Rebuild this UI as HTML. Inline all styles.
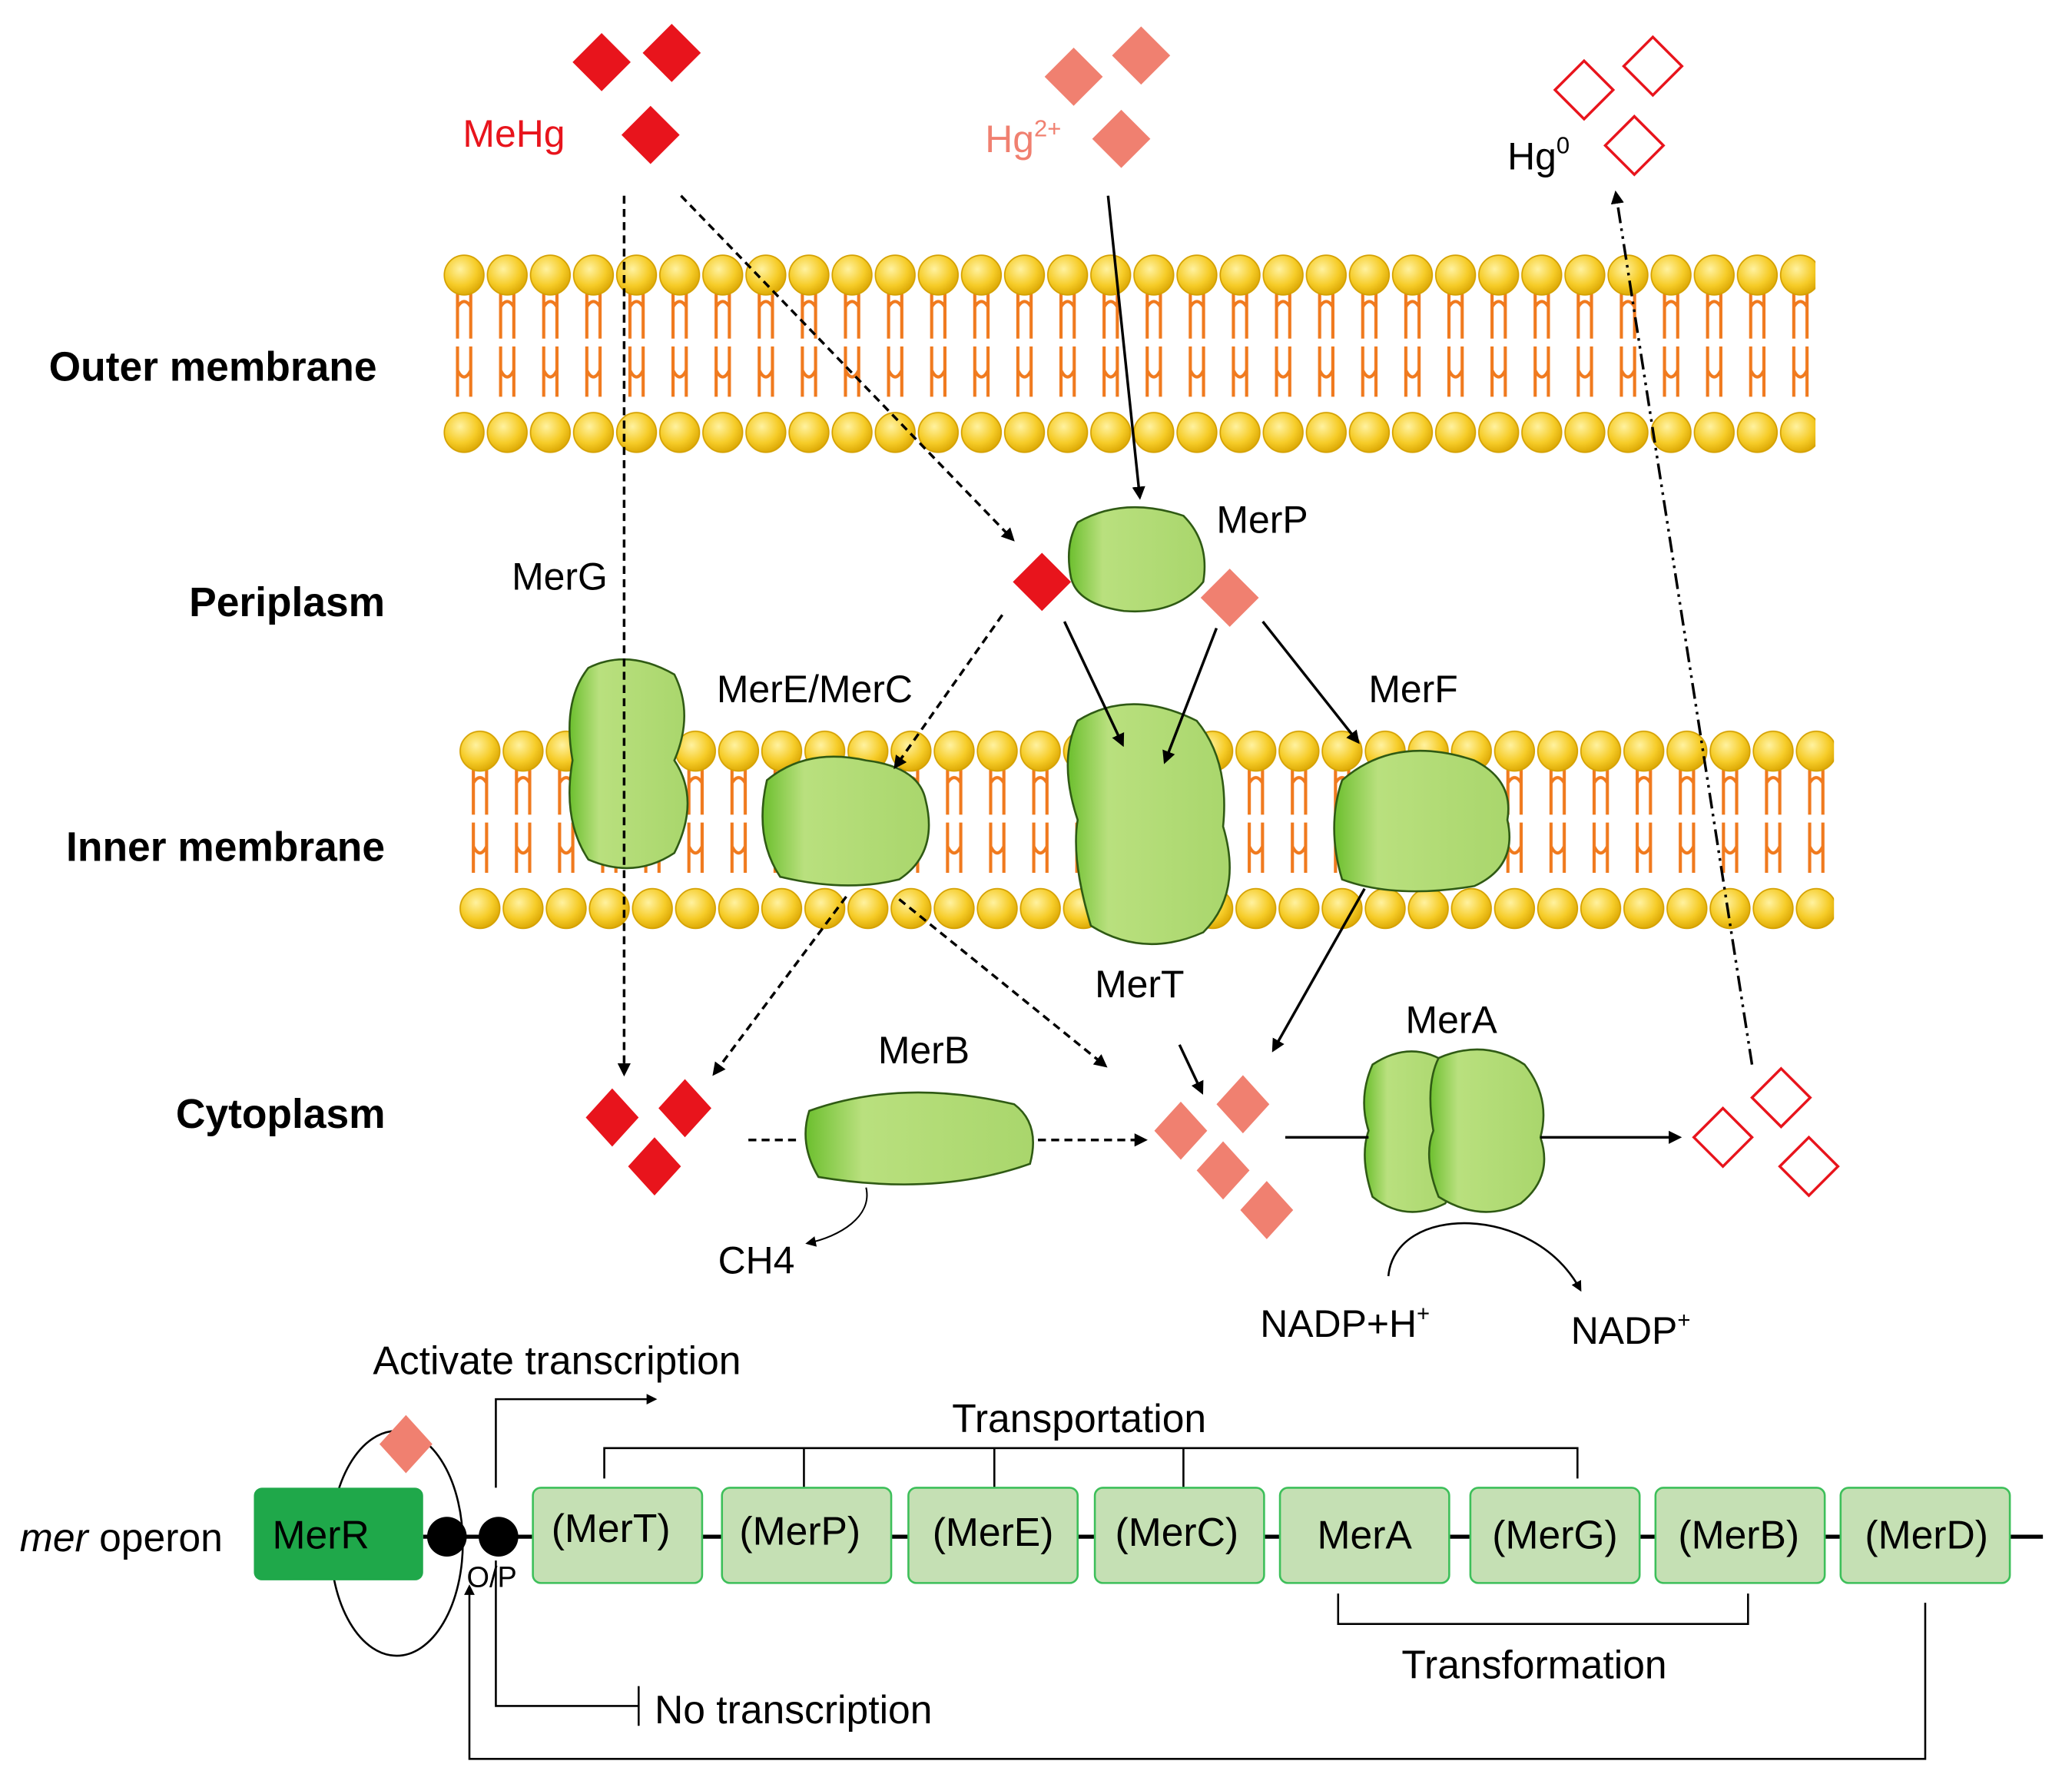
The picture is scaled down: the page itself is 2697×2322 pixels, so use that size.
<!DOCTYPE html>
<html><head><meta charset="utf-8"><style>
html,body{margin:0;padding:0;background:#fff;}
svg{display:block;}
text{font-family:"Liberation Sans",Arial,sans-serif;}
</style></head><body>
<svg width="2697" height="2322" viewBox="0 0 1567 1349" preserveAspectRatio="none" xmlns="http://www.w3.org/2000/svg">
<defs>
<radialGradient id="hd" cx="0.4" cy="0.35" r="0.7"><stop offset="0" stop-color="#fff2a0"/><stop offset="0.6" stop-color="#f6cc28"/><stop offset="1" stop-color="#d9a400"/></radialGradient>
<linearGradient id="gp" x1="0" y1="0" x2="1" y2="0"><stop offset="0" stop-color="#6cbf2e"/><stop offset="0.25" stop-color="#b9e07e"/><stop offset="1" stop-color="#a9d66c"/></linearGradient>
<pattern id="lipidO" x="335" y="190" width="32.6" height="155" patternUnits="userSpaceOnUse">
<g fill="none" stroke="#f07a1e" stroke-width="2.4">
<path d="M11 30 V66 M21 30 V66 M11 42 q5 -8 10 0"/>
<path d="M11 72 V110 M21 72 V110 M11 90 q5 10 10 0"/>
</g>
<circle cx="16" cy="18" r="15" fill="url(#hd)" stroke="#d4a000" stroke-width="1"/>
<circle cx="16" cy="137" r="15" fill="url(#hd)" stroke="#d4a000" stroke-width="1"/>
</pattern>
<pattern id="lipidI" x="347" y="550" width="32.6" height="155" patternUnits="userSpaceOnUse">
<g fill="none" stroke="#f07a1e" stroke-width="2.4">
<path d="M11 30 V66 M21 30 V66 M11 42 q5 -8 10 0"/>
<path d="M11 72 V110 M21 72 V110 M11 90 q5 10 10 0"/>
</g>
<circle cx="16" cy="18" r="15" fill="url(#hd)" stroke="#d4a000" stroke-width="1"/>
<circle cx="16" cy="137" r="15" fill="url(#hd)" stroke="#d4a000" stroke-width="1"/>
</pattern>
<marker id="ah" markerWidth="10" markerHeight="10" refX="8" refY="5" orient="auto" markerUnits="userSpaceOnUse"><path d="M0,0 L10,5 L0,10 z" fill="#000"/></marker>
<marker id="ahs" markerWidth="8" markerHeight="8" refX="6" refY="4" orient="auto" markerUnits="userSpaceOnUse"><path d="M0,0 L8,4 L0,8 z" fill="#000"/></marker>
</defs>

<rect x="335" y="190" width="1038" height="155" fill="url(#lipidO)"/>
<rect x="347" y="550" width="1040" height="155" fill="url(#lipidI)"/>

<g fill="#e8141c">
<path d="M455 25 l22 22 -22 22 -22 -22z"/><path d="M508 18 l22 22 -22 22 -22 -22z"/><path d="M492 80 l22 22 -22 22 -22 -22z"/>
</g>
<g fill="#f08070">
<path d="M812 36 l22 22 -22 22 -22 -22z"/><path d="M863 20 l22 22 -22 22 -22 -22z"/><path d="M848 83 l22 22 -22 22 -22 -22z"/>
</g>
<g fill="#fff" stroke="#e8141c" stroke-width="2">
<path d="M1198 46 l22 22 -22 22 -22 -22z"/><path d="M1250 28 l22 22 -22 22 -22 -22z"/><path d="M1236 88 l22 22 -22 22 -22 -22z"/>
</g>
<text x="350" y="111" font-size="29" fill="#e8141c">MeHg</text>
<text x="745" y="115" font-size="29" fill="#f08070">Hg<tspan font-size="18" dy="-12">2+</tspan></text>
<text x="1140" y="128" font-size="29" fill="#000">Hg<tspan font-size="18" dy="-12">0</tspan></text>

<g font-size="31" font-weight="bold">
<text x="37" y="288">Outer membrane</text>
<text x="143" y="466">Periplasm</text>
<text x="50" y="651">Inner membrane</text>
<text x="133" y="853">Cytoplasm</text>
</g>

<g stroke="#2f5a14" stroke-width="1.5" fill="url(#gp)">
<path d="M445 505 q30 -15 65 5 q15 30 0 65 q20 30 0 70 q-30 20 -65 5 q-20 -30 -12 -75 q-8 -45 12 -70z"/>
<path d="M580 590 q30 -25 75 -15 q40 5 45 30 q10 40 -20 60 q-40 10 -90 -2 q-20 -30 -10 -73z"/>
<path d="M815 545 q40 -25 90 0 q25 30 20 80 q15 50 -15 80 q-45 20 -85 -5 q-15 -50 -10 -80 q-15 -45 0 -75z"/>
<path d="M1015 590 q40 -35 100 -15 q30 15 25 45 q8 35 -25 50 q-60 10 -100 -5 q-12 -40 0 -75z"/>
<path d="M815 395 q35 -20 80 -5 q20 20 15 50 q-20 25 -60 22 q-35 -5 -40 -25 q-5 -25 5 -42z"/>
<path d="M612 840 q70 -25 155 -5 q20 15 12 45 q-70 25 -160 10 q-15 -25 -7 -50z"/>
<path d="M1038 805 q30 -20 58 0 q10 25 2 50 q10 30 -5 55 q-30 15 -55 -5 q-10 -30 -3 -50 q-8 -25 3 -50z"/>
<path d="M1088 800 q35 -15 65 5 q20 25 12 55 q10 30 -15 50 q-30 15 -62 -5 q-12 -30 -4 -50 q-6 -35 4 -55z"/>
</g>

<path d="M788 418 l22 22 -22 22 -22 -22z" fill="#e8141c"/>
<path d="M930 430 l22 22 -22 22 -22 -22z" fill="#f08070"/>
<g fill="#e8141c">
<path d="M463 823 l20 22 -20 22 -20 -22z"/><path d="M518 816 l20 22 -20 22 -20 -22z"/><path d="M495 860 l20 22 -20 22 -20 -22z"/>
</g>
<g fill="#f08070">
<path d="M893 833 l20 22 -20 22 -20 -22z"/><path d="M940 813 l20 22 -20 22 -20 -22z"/><path d="M925 863 l20 22 -20 22 -20 -22z"/><path d="M958 893 l20 22 -20 22 -20 -22z"/>
</g>
<g fill="#fff" stroke="#e8141c" stroke-width="2">
<path d="M1303 838 l22 22 -22 22 -22 -22z"/><path d="M1347 808 l22 22 -22 22 -22 -22z"/><path d="M1368 860 l22 22 -22 22 -22 -22z"/>
</g>

<g stroke="#000" stroke-width="2" fill="none">
<g stroke-dasharray="6,4">
<path d="M472 148 V812" marker-end="url(#ah)"/>
<path d="M515 148 L766 408" marker-end="url(#ah)"/>
<path d="M758 465 L677 580" marker-end="url(#ah)"/>
<path d="M640 678 L540 812" marker-end="url(#ah)"/>
<path d="M680 680 L836 806" marker-end="url(#ah)"/>
<path d="M566 862 H605"/>
<path d="M785 862 H866" marker-end="url(#ah)"/>
</g>
<path d="M838 148 L862 376" marker-end="url(#ah)"/>
<path d="M805 470 L849 563" marker-end="url(#ah)"/>
<path d="M920 475 L881 576" marker-end="url(#ah)"/>
<path d="M955 470 L1027 561" marker-end="url(#ah)"/>
<path d="M1032 672 L963 794" marker-end="url(#ah)"/>
<path d="M892 790 L909 826" marker-end="url(#ah)"/>
<path d="M972 860 H1035"/>
<path d="M1165 860 H1270" marker-end="url(#ah)"/>
<path d="M1325 805 L1222 146" stroke-dasharray="12,4,2,4,2,4" marker-end="url(#ah)"/>
<path d="M655 898 C660 920 635 935 611 940" stroke-width="1.2" marker-end="url(#ahs)"/>
<path d="M1050 965 C1055 910 1160 910 1195 975" stroke-width="1.5" marker-end="url(#ahs)"/>
</g>

<g font-size="29" fill="#000">
<text x="920" y="403">MerP</text>
<text x="387" y="446">MerG</text>
<text x="542" y="531">MerE/MerC</text>
<text x="1035" y="531">MerF</text>
<text x="828" y="754">MerT</text>
<text x="664" y="804">MerB</text>
<text x="1063" y="781">MerA</text>
<text x="543" y="963">CH4</text>
<text x="953" y="1011">NADP+H<tspan font-size="17" dy="-12">+</tspan></text>
<text x="1188" y="1016">NADP<tspan font-size="17" dy="-12">+</tspan></text>
<text x="282" y="1039" font-size="30">Activate transcription</text>
<text x="720" y="1083" font-size="30">Transportation</text>
<text x="1060" y="1269" font-size="30">Transformation</text>
<text x="495" y="1303" font-size="30">No transcription</text>
<text x="15" y="1173" font-size="30"><tspan font-style="italic">mer</tspan> operon</text>
</g>

<g stroke="#000" stroke-width="1.5" fill="none">
<path d="M375 1125 V1058 H495" marker-end="url(#ahs)"/>
<ellipse cx="300" cy="1167" rx="50" ry="85"/>
<path d="M457 1118 V1095 H1193 V1118 M608 1095 V1125 M752 1095 V1125 M895 1095 V1125"/>
<path d="M1012 1205 V1228 H1322 V1205"/>
<path d="M375 1180 V1290 H483 M483 1275 V1305"/>
<path d="M1456 1212 V1330 H355 V1200" marker-end="url(#ahs)"/>
<path d="M320 1162 H1545" stroke-width="3"/>
</g>
<path d="M307 1070 l20 22 -20 22 -20 -22z" fill="#f08070"/>
<rect x="192" y="1125" width="128" height="70" rx="6" fill="#1fa84a"/>
<text x="206" y="1171" font-size="30">MerR</text>
<circle cx="338" cy="1162" r="15" fill="#000"/>
<circle cx="377" cy="1162" r="15" fill="#000"/>
<text x="353" y="1200" font-size="22">O/P</text>
<g fill="#c5e0b4" stroke="#3dbf5a" stroke-width="1.5">
<rect x="403" y="1125" width="128" height="72" rx="6"/>
<rect x="546" y="1125" width="128" height="72" rx="6"/>
<rect x="687" y="1125" width="128" height="72" rx="6"/>
<rect x="828" y="1125" width="128" height="72" rx="6"/>
<rect x="968" y="1125" width="128" height="72" rx="6"/>
<rect x="1112" y="1125" width="128" height="72" rx="6"/>
<rect x="1252" y="1125" width="128" height="72" rx="6"/>
<rect x="1392" y="1125" width="128" height="72" rx="6"/>
</g>
<g font-size="30" text-anchor="middle">
<text x="462" y="1166">(MerT)</text>
<text x="605" y="1168">(MerP)</text>
<text x="751" y="1169">(MerE)</text>
<text x="890" y="1169">(MerC)</text>
<text x="1032" y="1171">MerA</text>
<text x="1176" y="1171">(MerG)</text>
<text x="1315" y="1171">(MerB)</text>
<text x="1457" y="1171">(MerD)</text>
</g>
</svg>
</body></html>
